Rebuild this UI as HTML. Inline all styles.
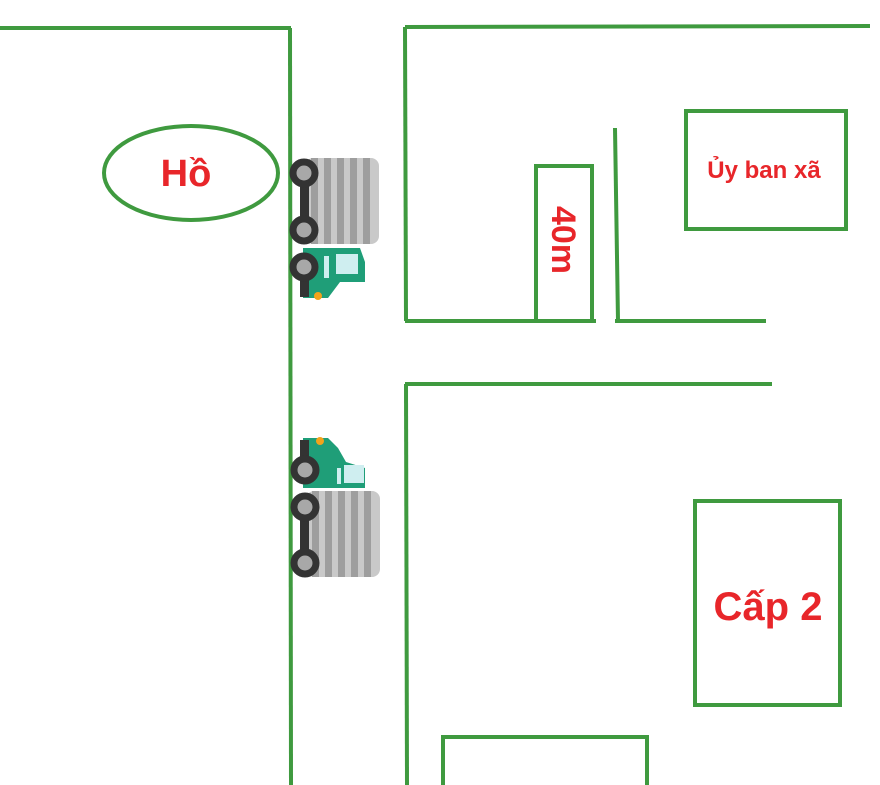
<!DOCTYPE html>
<html><head><meta charset="utf-8"><style>
html,body{margin:0;padding:0;background:#fff;}
svg{display:block;}
text{font-family:"Liberation Sans",sans-serif;font-weight:bold;fill:#e8262a;}
</style></head><body>
<svg width="880" height="785" viewBox="0 0 880 785" xmlns="http://www.w3.org/2000/svg">
<defs>
<g id="trailer">
 <rect x="0" y="0" width="74" height="86" rx="8" fill="#c9c9c9"/>
 <g fill="#9e9e9e">
  <rect x="6" y="0" width="7" height="86"/><rect x="19" y="0" width="7" height="86"/>
  <rect x="32" y="0" width="7" height="86"/><rect x="45" y="0" width="7" height="86"/>
  <rect x="58" y="0" width="7" height="86"/>
 </g>
</g>
</defs>
<g stroke="#3f9a3f" stroke-width="4" fill="none">
 <line x1="0" y1="28" x2="291" y2="28"/>
 <line x1="290" y1="28" x2="291" y2="785"/>
 <line x1="405" y1="27" x2="870" y2="26"/>
 <line x1="405" y1="27" x2="406" y2="321"/>
 <line x1="405" y1="321" x2="596" y2="321"/>
 <line x1="615" y1="128" x2="618" y2="321"/>
 <line x1="615" y1="321" x2="766" y2="321"/>
 <rect x="536" y="166" width="56" height="155"/>
 <rect x="686" y="111" width="160" height="118"/>
 <line x1="405" y1="384" x2="772" y2="384"/>
 <line x1="406" y1="384" x2="407" y2="785"/>
 <rect x="695" y="501" width="145" height="204"/>
 <polyline points="443,790 443,737 647,737 647,790"/>
 <ellipse cx="191" cy="173" rx="87" ry="47"/>
</g>
<text x="186" y="186" font-size="38" text-anchor="middle">Hồ</text>
<text x="764" y="178" font-size="24" text-anchor="middle">Ủy ban xã</text>
<text x="768" y="620" font-size="40" text-anchor="middle">Cấp 2</text>
<text x="0" y="0" font-size="34" text-anchor="middle" transform="translate(552,240) rotate(90)">40m</text>

<!-- truck 1 -->
<use href="#trailer" x="305" y="158"/>
<path d="M303 248 H360 L365 262 V282 H340 L328 298 H303 Z" fill="#1f9e78"/>
<rect x="336" y="254" width="22" height="20" fill="#cfeef0"/>
<rect x="324" y="256" width="5" height="22" fill="#cfeef0"/>
<circle cx="318" cy="296" r="4" fill="#f2a31b"/>
<rect x="300" y="173" width="9" height="60" fill="#333"/>
<rect x="300" y="267" width="9" height="30" fill="#333"/>
<g fill="#a8a8a8" stroke="#333" stroke-width="7">
 <circle cx="304" cy="173" r="11"/><circle cx="304" cy="230" r="11"/><circle cx="304" cy="267" r="11"/>
</g>

<!-- truck 2 -->
<use href="#trailer" x="306" y="491"/>
<path d="M303 488 H365 V468 L346 462 L338 448 L328 438 H303 Z" fill="#1f9e78"/>
<rect x="344" y="465" width="20" height="18" fill="#cfeef0"/>
<rect x="337" y="468" width="4" height="16" fill="#cfeef0"/>
<circle cx="320" cy="441" r="4" fill="#f2a31b"/>
<rect x="300" y="440" width="9" height="30" fill="#333"/>
<rect x="300" y="507" width="9" height="56" fill="#333"/>
<g fill="#a8a8a8" stroke="#333" stroke-width="7">
 <circle cx="305" cy="470" r="11"/><circle cx="305" cy="507" r="11"/><circle cx="305" cy="563" r="11"/>
</g>
</svg>
</body></html>
